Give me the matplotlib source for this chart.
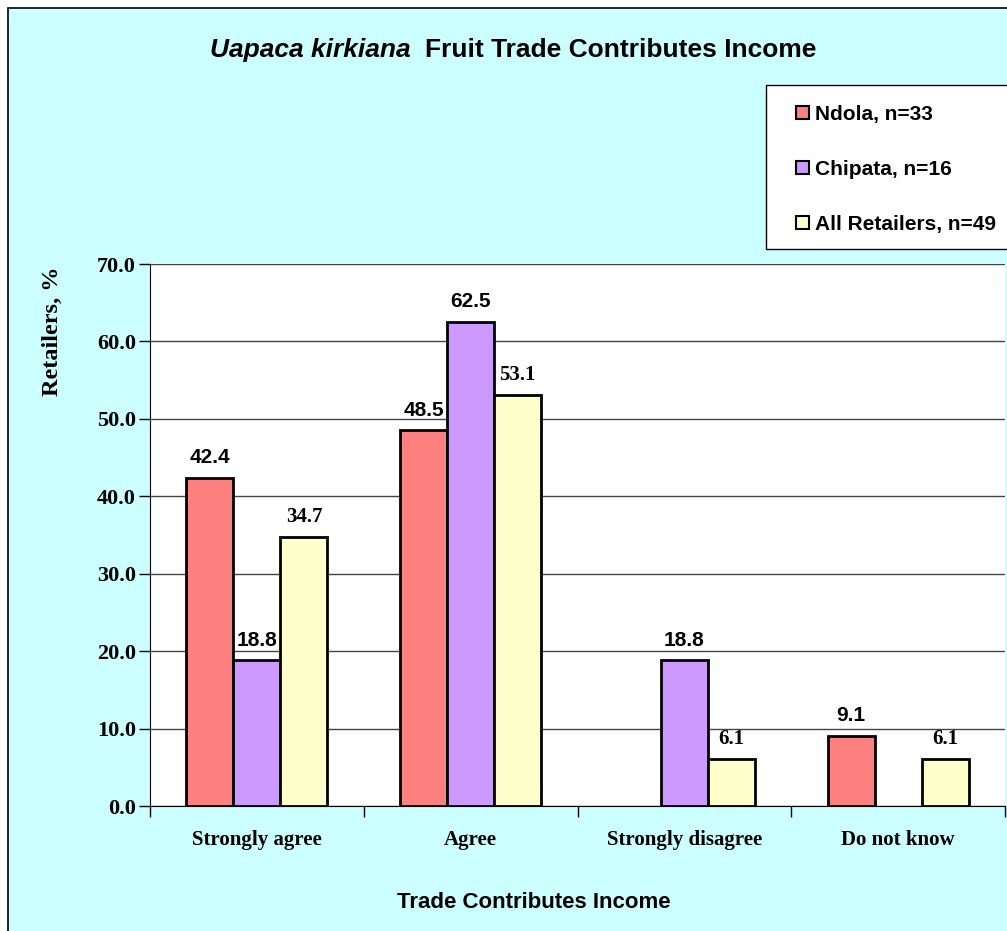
import numpy as np
import matplotlib
matplotlib.use('Agg')
import matplotlib.pyplot as plt
from matplotlib.patches import Rectangle

categories = ['Strongly agree', 'Agree', 'Strongly disagree', 'Do not know']
series_names = ['Ndola, n=33', 'Chipata, n=16', 'All Retailers, n=49']
ndola = [42.4, 48.5, np.nan, 9.1]
chipata = [18.8, 62.5, 18.8, np.nan]
all_retailers = [34.7, 53.1, 6.1, 6.1]
yticks = [0, 10, 20, 30, 40, 50, 60, 70]

colors = ['#FF8080', '#CC99FF', '#FFFFCC']
label_fonts = ['Liberation Sans', 'Liberation Sans', 'Liberation Serif']
SERIF = 'Liberation Serif'
SANS = 'Liberation Sans'

W, H = 1007, 931
fig = plt.figure(figsize=(W / 100, H / 100), dpi=100)
fig.patch.set_facecolor('white')

# chart area (cyan box with black border, cropped at right/bottom)
fig.patches.append(Rectangle((8 / W, -0.05), 1.1, 1 - 8 / H + 0.05, transform=fig.transFigure,
                             facecolor='#CCFFFF', edgecolor='black', linewidth=1.2, zorder=-5))
# legend box
fig.patches.append(Rectangle((766 / W, 1 - 249 / H), 0.3, 164 / H, transform=fig.transFigure,
                             facecolor='white', edgecolor='black', linewidth=1, zorder=-4))

ax = fig.add_axes([150 / W, 1 - 806 / H, 855 / W, 542 / H])
ax.set_facecolor('white')

x = np.arange(len(categories))
bw = 0.22
all_series = [ndola, chipata, all_retailers]
for i, (vals, name) in enumerate(zip(all_series, series_names)):
    pos = x + (i - 1) * bw
    ax.bar(pos, vals, width=bw, color=colors[i], edgecolor='black', linewidth=2, label=name, zorder=3)
    for p, v in zip(pos, vals):
        if np.isnan(v):
            continue
        ax.annotate(f'{v:.1f}', (p, v), xytext=(0, 14.5), textcoords='offset points',
                    ha='center', va='center', fontsize=15, fontweight='bold',
                    family=label_fonts[i], zorder=4)

ax.set_xlim(-0.5, 3.5)
ax.set_ylim(0, 70)
ax.set_yticks(yticks)
ax.set_yticklabels([f'{t:.1f}' for t in yticks], fontsize=16, fontweight='bold', family=SERIF)
ax.yaxis.grid(True, color='#444444', linewidth=1)
ax.set_axisbelow(True)
ax.tick_params(axis='y', length=8, width=1, direction='out', pad=2)

ax.set_xticks(x)
ax.set_xticklabels(categories, fontsize=15, fontweight='bold', family=SERIF)
ax.set_xticks(np.arange(-0.5, 4, 1), minor=True)
ax.tick_params(axis='x', which='major', length=0, pad=17)
ax.tick_params(axis='x', which='minor', length=8, width=1, direction='out')

for s in ['top', 'right']:
    ax.spines[s].set_visible(False)
ax.spines['left'].set_color('black')
ax.spines['bottom'].set_color('black')

# title with italic species name
fig.text(411 / W, 1 - 50 / H, 'Uapaca kirkiana', ha='right', va='center',
         fontsize=19, fontweight='bold', style='italic', family=SANS)
fig.text(425 / W, 1 - 50 / H, 'Fruit Trade Contributes Income', ha='left', va='center',
         fontsize=19, fontweight='bold', family=SANS)

fig.text(534 / W, 1 - 903 / H, 'Trade Contributes Income', ha='center', va='center',
         fontsize=16, fontweight='bold', family=SANS)
fig.text(52 / W, 1 - 331 / H, 'Retailers, %', ha='center', va='center', rotation=90,
         fontsize=17.5, fontweight='bold', family=SERIF)

leg = fig.legend(loc='upper left', bbox_to_anchor=(796 / W, 1 - 105 / H), frameon=False,
                 prop={'family': SANS, 'weight': 'bold', 'size': 15},
                 handlelength=0.6, handleheight=0.6, handletextpad=0.3,
                 labelspacing=1.72, borderpad=0, borderaxespad=0)
for h in leg.legend_handles:
    h.set_linewidth(1.5)

fig.savefig('out.png', dpi=100)
